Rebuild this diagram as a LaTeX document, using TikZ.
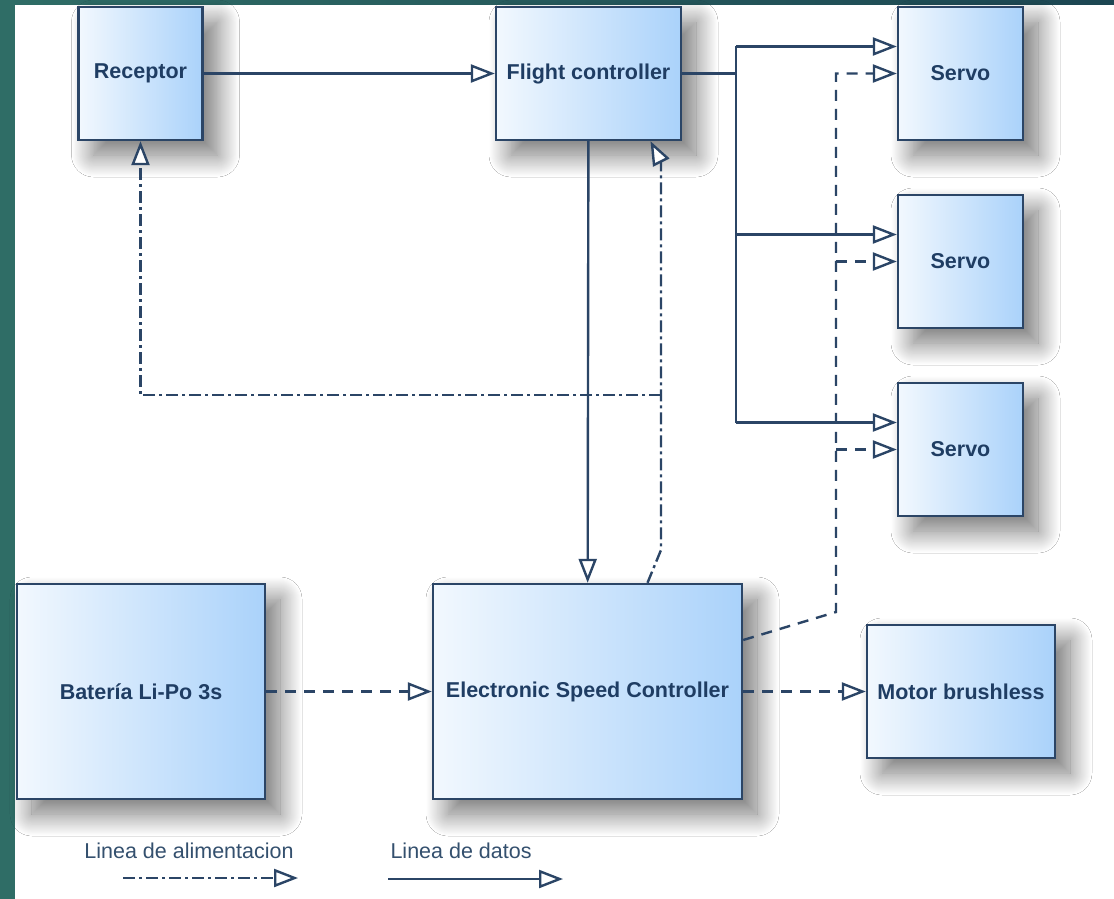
\documentclass[tikz,border=0pt]{standalone}
\usepackage{fontspec}
\setmainfont{Liberation Sans}
\usepackage{tikz}
\usetikzlibrary{arrows.meta,positioning,shadows.blur}
\definecolor{navy}{HTML}{2B4566}
\definecolor{labelblue}{HTML}{1F3D63}
\definecolor{legendblue}{HTML}{34506E}
\definecolor{boxleft}{HTML}{F2F8FE}
\definecolor{boxright}{HTML}{AAD2FA}
\definecolor{slide}{HTML}{2F6D66}
\definecolor{slidedark}{HTML}{1C4652}

\begin{document}
\begin{tikzpicture}[x=1pt,y=-1pt,line width=2.4pt,
  >={Triangle[length=24pt,width=18pt,fill=white]},
  datos/.style={->,navy},
  mando/.style={->,navy,dash pattern=on 11pt off 8pt},
  alim/.style={->,navy,dash pattern=on 12pt off 4pt on 3pt off 4pt},
  legend/.style={text=legendblue,font=\fontsize{21.5}{26}\selectfont}]
  \tikzstyle{box}=[rectangle,draw=navy,left color=boxleft,right color=boxright,
    text=labelblue,font=\bfseries\fontsize{21.5}{26}\selectfont,inner sep=2pt,
    blur shadow={shadow xshift=15pt,shadow yshift=-15pt,shadow blur radius=22pt,
      shadow blur steps=24,shadow opacity=55}]

  \fill[white] (0,0) rectangle (1114,899);
  \fill[left color=slide,right color=slidedark] (0,0) rectangle (1114,5);
  \fill[slide] (0,0) rectangle (15,899);
  \useasboundingbox (0,0) rectangle (1114,899);

  \node[box,minimum width=124pt,minimum height=133pt] (rec) at (140.5,73.5) {Receptor};
  \node[box,minimum width=185pt,minimum height=133pt] (fc)  at (588.5,73.5) {Flight controller};
  \node[box,minimum width=125pt,minimum height=133pt] (s1)  at (960.5,73.5) {Servo};
  \node[box,minimum width=125pt,minimum height=133pt] (s2)  at (960.5,261.5) {Servo};
  \node[box,minimum width=125pt,minimum height=133pt] (s3)  at (960.5,449.5) {Servo};
  \node[box,minimum width=248pt,minimum height=215pt] (bat) at (141,691.5) {Batería Li-Po 3s};
  \node[box,minimum width=309pt,minimum height=215pt] (esc) at (587.5,691.5) {Electronic Speed Controller};
  \node[box,minimum width=188pt,minimum height=133pt] (mot) at (961,691.5) {Motor brushless};

  \coordinate (bus0) at (736,73.5);
  \coordinate (bus1) at (736,46.5);
  \coordinate (bus2) at (736,234.5);
  \coordinate (bus3) at (736,422.5);
  \coordinate (pwm0) at (836,612);
  \coordinate (pwm1) at (836,73.5);
  \coordinate (vcc0) at (661,550);
  \coordinate (vcc1) at (661,162);
  \coordinate (vcc2) at (661,395);

  \draw[datos] (rec) -- (fc);
  \draw[datos] (fc) -- (esc);
  \draw[navy] (fc.east) -- (bus0);
  \draw[navy] (bus1) -- (bus3);
  \draw[datos] (bus1) -- ([yshift=27pt]s1.west);
  \draw[datos] (bus2) -- ([yshift=27pt]s2.west);
  \draw[datos] (bus3) -- ([yshift=27pt]s3.west);

  \draw[mando] ([yshift=51.5pt]esc.east) -- (pwm0) -- (pwm1) -- (s1.west);
  \draw[mando] (s2.west -| pwm1) -- (s2.west);
  \draw[mando] (s3.west -| pwm1) -- (s3.west);
  \draw[mando] (bat) -- (esc);
  \draw[mando] (esc) -- (mot);

  \draw[alim] ([xshift=60pt]esc.north) -- (vcc0) -- (vcc1) -- ([xshift=62pt]fc.south);
  \draw[alim] (vcc2) -- (vcc2 -| rec) -- (rec);

  \node[legend,anchor=base] (lalim) at (189,858) {Linea de alimentacion};
  \node[legend,anchor=base west] (ldat) at (386,858) {Linea de datos};
  \coordinate (la0) at (123,878);
  \coordinate (la1) at (298,878);
  \coordinate (ld0) at (388,879);
  \coordinate (ld1) at (563,879);
  \draw[alim] (la0) -- (la1);
  \draw[datos] (ld0) -- (ld1);
\end{tikzpicture}
\end{document}
